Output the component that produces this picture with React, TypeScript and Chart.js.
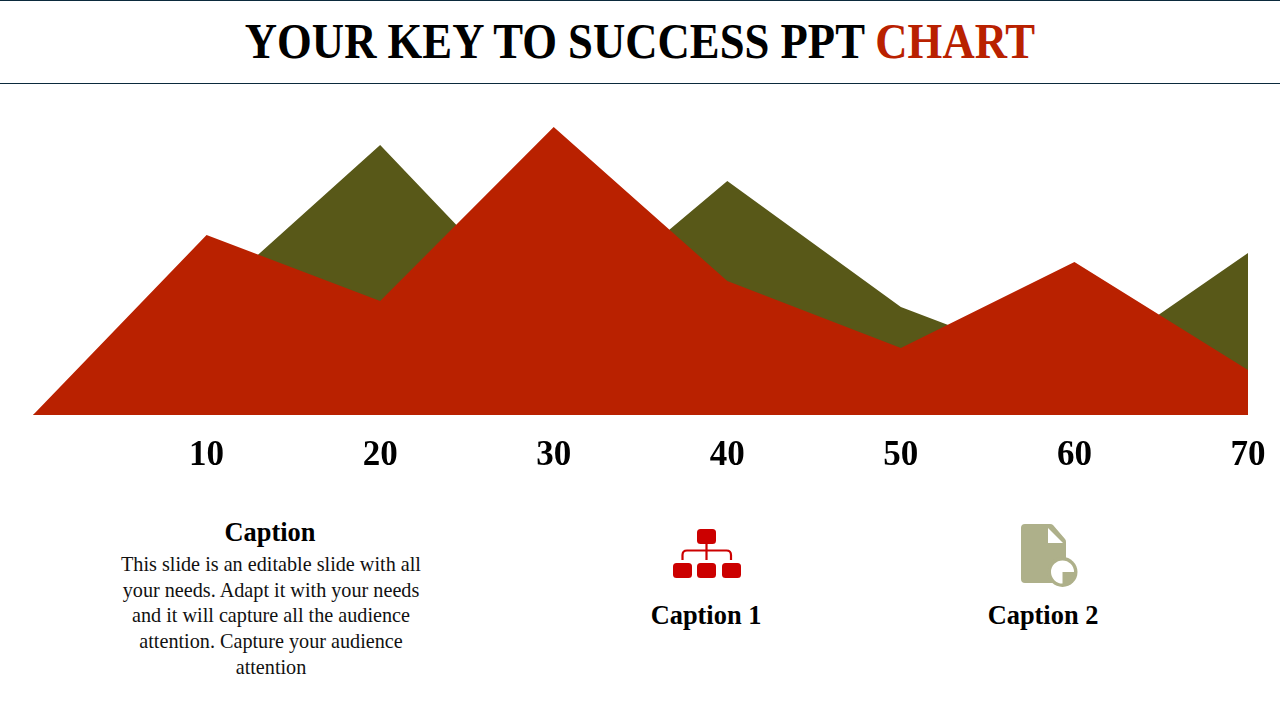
import React, { useEffect, useRef } from "react";
import { Chart, registerables } from "chart.js";

Chart.register(...registerables);

const categories = ["", "10", "20", "30", "40", "50", "60", "70"];
const olive = [0, 114, 270, 88, 234, 108, 42, 162];
const red = [0, 180, 114, 288, 134, 67, 153, 45];

const SERIF = '"Liberation Serif", serif';
const RED = "#B92100";
const OLIVE = "#585818";

const abs = (left: number, top: number, extra: React.CSSProperties = {}): React.CSSProperties => ({
  position: "absolute",
  left,
  top,
  ...extra,
});

export default function App() {
  const ref = useRef<HTMLCanvasElement>(null);
  useEffect(() => {
    const chart = new Chart(ref.current!, {
      type: "line",
      data: {
        labels: categories,
        datasets: [
          { label: "Series 1", data: olive, backgroundColor: OLIVE, fill: "origin", borderWidth: 0, pointRadius: 0, tension: 0, order: 2 },
          { label: "Series 2", data: red, backgroundColor: RED, fill: "origin", borderWidth: 0, pointRadius: 0, tension: 0, order: 1 },
        ],
      },
      options: {
        animation: false,
        responsive: false,
        layout: { padding: { left: 33, right: 32, top: 115, bottom: 0 } },
        plugins: { legend: { display: false }, tooltip: { enabled: false }, title: { display: false } },
        scales: {
          y: { display: false, min: 0, max: 300 },
          x: {
            offset: false,
            grid: { display: false },
            border: { display: false },
            afterFit: (s: any) => { s.height = 60; s.paddingLeft = 0; s.paddingRight = 0; },
            ticks: {
              color: "#000",
              autoSkip: false,
              maxRotation: 0,
              padding: 12,
              font: { family: SERIF, size: 35, weight: "bold" },
            },
          },
        },
      },
    } as any);
    return () => chart.destroy();
  }, []);

  return (
    <div style={{ position: "absolute", left: 0, top: 0, width: 1280, height: 720, background: "#fff", overflow: "hidden", fontFamily: SERIF, color: "#000" }}>
      <div style={abs(0, 0, { width: 1280, height: 1, background: "#0B2A3C" })} />
      <div style={abs(0, 83, { width: 1280, height: 1, background: "#0B2A3C" })} />
      <div style={abs(0, 11, { width: 1280, textAlign: "center", fontSize: 50, fontWeight: 700, lineHeight: "60px", whiteSpace: "nowrap", transform: "scaleX(0.894)", transformOrigin: "640px 0" })}>
        YOUR KEY TO SUCCESS PPT <span style={{ color: RED }}>CHART</span>
      </div>
      <canvas ref={ref} width={1280} height={475} style={abs(0, 0, { width: 1280, height: 475 })} />
      <div style={abs(70, 516, { width: 400, textAlign: "center", fontSize: 26.4, fontWeight: 700, lineHeight: "32px" })}>Caption</div>
      <div style={abs(111, 552, { width: 320, textAlign: "center", fontSize: 20.2, lineHeight: "25.7px", color: "#111" })}>
        This slide is an editable slide with all<br />your needs. Adapt it with your needs<br />and it will capture all the audience<br />attention. Capture your audience<br />attention
      </div>
      <div style={abs(556, 599, { width: 300, textAlign: "center", fontSize: 26.4, fontWeight: 700, lineHeight: "32px" })}>Caption 1</div>
      <div style={abs(893, 599, { width: 300, textAlign: "center", fontSize: 26.4, fontWeight: 700, lineHeight: "32px" })}>Caption 2</div>
      <svg width={1280} height={720} style={abs(0, 0, { pointerEvents: "none" })}>
        <g fill="#CC0000">
          <rect x={697} y={529} width={19} height={15} rx={3.5} />
          <rect x={673} y={563} width={19} height={15} rx={3.5} />
          <rect x={697} y={563} width={19} height={15} rx={3.5} />
          <rect x={722} y={563} width={19} height={15} rx={3.5} />
        </g>
        <path d="M706.5 544V560M682.5 560V555Q682.5 550.5 687 550.5H726.5Q731 550.5 731 555V560" fill="none" stroke="#CC0000" strokeWidth={2.2} />
        <path d="M1025 524H1050Q1052 524 1053 525L1065 539Q1066 540 1066 542V583H1025Q1021 583 1021 579V528Q1021 524 1025 524Z" fill="#AEB08A" />
        <path d="M1048 528L1063 543H1048Z" fill="#fff" />
        <circle cx={1062.5} cy={572} r={15} fill="#AEB08A" />
        <path d="M1062.5 583.5A11.5 11.5 0 1 1 1074 572H1062.5Z" fill="#fff" />
      </svg>
    </div>
  );
}
